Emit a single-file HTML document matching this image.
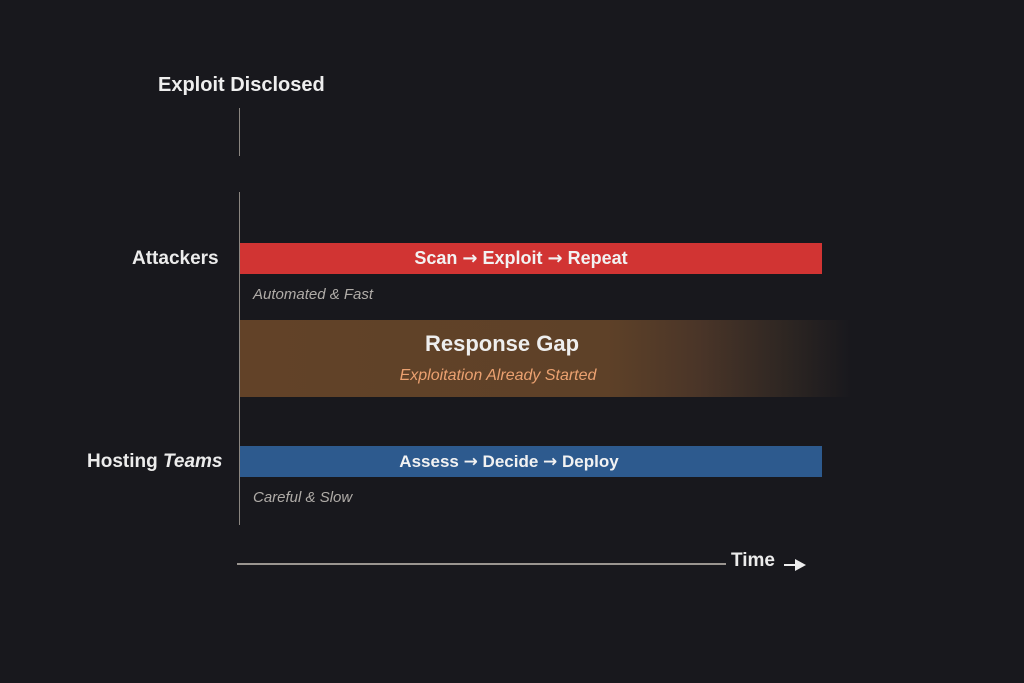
<!DOCTYPE html>
<html><head><meta charset="utf-8"><style>
html,body{margin:0;padding:0}
body{width:1024px;height:683px;background:#18181d;position:relative;overflow:hidden;font-family:"Liberation Sans",sans-serif;color:#ececec}
.a{position:absolute}
.t{white-space:nowrap}
.ar{font-family:"DejaVu Sans",sans-serif;font-weight:bold}
</style></head><body>
<div class="a t" style="left:158px;top:74px;font-size:20px;font-weight:bold;color:#eee">Exploit Disclosed</div>
<div class="a" style="left:239px;top:108px;width:1px;height:48px;background:#8a8580"></div>
<div class="a" style="left:239px;top:192px;width:1px;height:333px;background:#8a8580"></div>

<div class="a t" style="left:132px;top:248px;font-size:19px;font-weight:bold">Attackers</div>
<div class="a" style="left:240px;top:243px;width:582px;height:31px;background:#d13433"></div>
<div class="a t" style="left:240px;top:243px;width:562px;line-height:31px;text-align:center;font-size:18px;font-weight:bold;color:#f2f2f2">Scan <span class="ar">→</span> Exploit <span class="ar">→</span> Repeat</div>
<div class="a t" style="left:253px;top:286px;font-size:15px;font-style:italic;color:#b0aca8">Automated &amp; Fast</div>

<div class="a" style="left:240px;top:320px;width:612px;height:77px;background:linear-gradient(to right,#624228 0%,#5e4128 60%,#4a3528 75%,#2c2522 90%,#18181d 100%)"></div>
<div class="a t" style="left:240px;top:331px;width:524px;text-align:center;font-size:22px;font-weight:bold;color:#eee">Response Gap</div>
<div class="a t" style="left:240px;top:367px;width:516px;text-align:center;font-size:16px;font-style:italic;color:#eba170">Exploitation Already Started</div>

<div class="a t" style="left:87px;top:451px;font-size:19px;font-weight:bold">Hosting <i>Teams</i></div>
<div class="a" style="left:240px;top:446px;width:582px;height:31px;background:#2d5a8e"></div>
<div class="a t" style="left:240px;top:446px;width:538px;line-height:31px;text-align:center;font-size:17px;font-weight:bold;color:#f2f2f2">Assess <span class="ar">→</span> Decide <span class="ar">→</span> Deploy</div>
<div class="a t" style="left:253px;top:489px;font-size:15px;font-style:italic;color:#b0aca8">Careful &amp; Slow</div>

<div class="a" style="left:237px;top:563px;width:489px;height:2px;background:#9a9590"></div>
<div class="a t" style="left:731px;top:550px;font-size:19px;font-weight:bold">Time</div>
<svg class="a" style="left:783px;top:558px" width="24" height="14"><line x1="1" y1="7" x2="14" y2="7" stroke="#eee" stroke-width="2"/><polygon points="12,1 23,7 12,13" fill="#eee"/></svg>
</body></html>
